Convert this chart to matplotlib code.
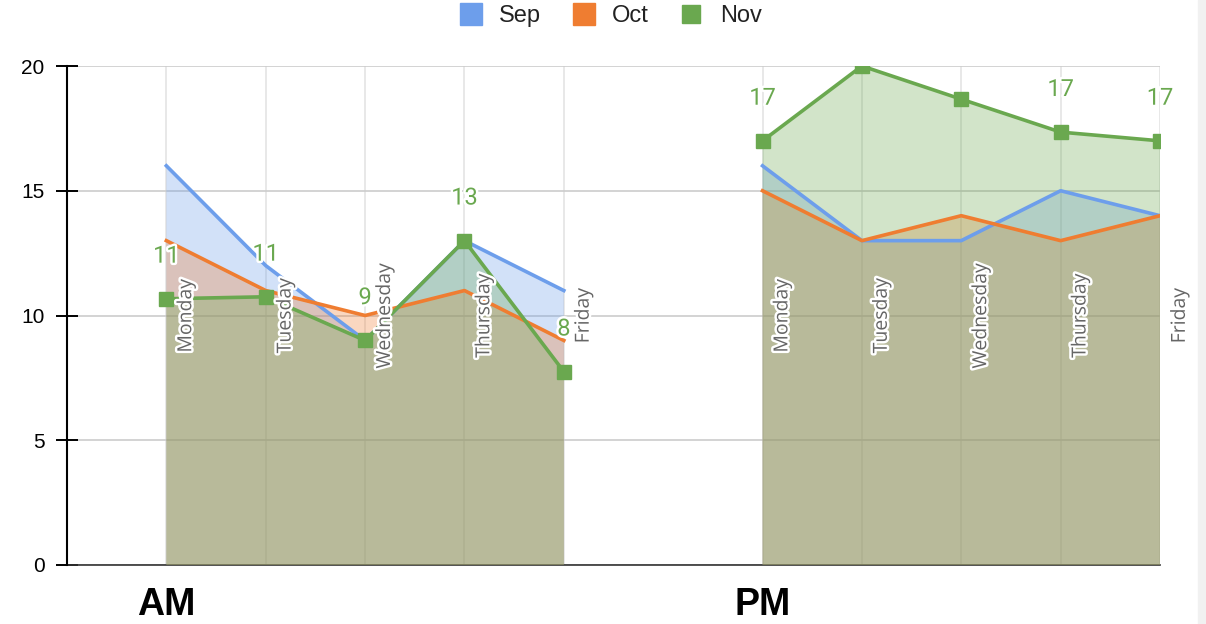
import matplotlib.pyplot as plt
import matplotlib.patheffects as pe
from matplotlib.lines import Line2D
from matplotlib.patches import Rectangle
import numpy as np

# categories: AM Mon-Fri, empty gap, PM Mon-Fri
days = ['Monday', 'Tuesday', 'Wednesday', 'Thursday', 'Friday',
        '',
        'Monday', 'Tuesday', 'Wednesday', 'Thursday', 'Friday']
groups = ['AM', 'PM']
group_start = [0, 6]

sep = [16, 12, 9, 13, 11, None, 16, 13, 13, 15, 14]
oct_ = [13, 11, 10, 11, 9, None, 15, 13, 14, 13, 14]
nov = [10.67, 10.75, 9, 13, 7.75, None, 17, 20, 18.67, 17.35, 17]
nov_labelled = [True, True, True, True, True, False, True, False, False, True, True]

series = [('Sep', sep, '#6d9eeb'), ('Oct', oct_, '#ef7d31'), ('Nov', nov, '#6aa84f')]

fig = plt.figure(figsize=(12.06, 6.24), dpi=100)
ax = fig.add_axes([67 / 1206, 59 / 624, (1160 - 67) / 1206, (565 - 66) / 624])
fig.patches.append(Rectangle((1198 / 1206, 0), 8 / 1206, 1, transform=fig.transFigure,
                             color='#f1f1f1', zorder=0))

x = np.arange(len(days)) + 1

for i, (name, vals, col) in enumerate(series):
    y = np.array([np.nan if v is None else v for v in vals], dtype=float)
    ax.fill_between(x, 0, y, color=col, alpha=0.3, linewidth=0, zorder=2 + i)
for i, (name, vals, col) in enumerate(series):
    y = np.array([np.nan if v is None else v for v in vals], dtype=float)
    if name == 'Nov':
        ax.plot(x, y, color=col, lw=2.6, marker='s', markersize=10, zorder=6 + i)
    else:
        ax.plot(x, y, color=col, lw=2.6, zorder=6 + i)

# day labels inside the plot
halo = [pe.withStroke(linewidth=3.5, foreground='white')]
for xi, d in zip(x, days):
    if d:
        ax.text(xi + 0.2, 10, d, rotation=90, ha='center', va='center', fontsize=14,
                family='Open Sans', color='#666666', path_effects=halo, zorder=10)

# Nov data labels
for xi, v, lab in zip(x, nov, nov_labelled):
    if lab and v is not None:
        ax.annotate(f'{v:.0f}', (xi, v), xytext=(0, 26), textcoords='offset points',
                    ha='center', va='baseline', fontsize=17, family='Roboto',
                    color='#6aa84f', path_effects=halo, zorder=11)

# AM / PM under the first day of each group
for g, s in zip(groups, group_start):
    ax.text(x[s], -0.08, g, transform=ax.get_xaxis_transform(), ha='center', va='center',
            fontsize=27, fontweight='bold', family='Liberation Sans', color='black')

ax.set_xlim(0, 11)
ax.set_ylim(0, 20)
ax.set_xticks([xi for xi, d in zip(x, days) if d])
ax.set_xticklabels([])
ax.tick_params(axis='x', length=0)
ax.set_yticks([0, 5, 10, 15, 20])
ax.tick_params(axis='y', direction='inout', length=16.5, width=1.4, pad=8,
               labelsize=15, colors='black')
for t in ax.get_yticklabels():
    t.set_family('Liberation Sans')

ax.grid(axis='y', color='#cccccc', lw=1.2)
ax.grid(axis='x', color='#e4e4e4', lw=1.2)
ax.set_axisbelow(True)
for s in ['top', 'right']:
    ax.spines[s].set_visible(False)
ax.spines['left'].set_linewidth(1.5)
ax.spines['bottom'].set_linewidth(1.2)
ax.spines['bottom'].set_color('#333333')
ax.spines['bottom'].set_zorder(1)

handles = [Line2D([], [], ls='none', marker='s', markersize=16, color=series[0][2]),
           Line2D([], [], ls='none', marker='s', markersize=16, color=series[1][2]),
           Line2D([], [], ls='none', marker='s', markersize=13, color=series[2][2])]
fig.legend(handles, [s[0] for s in series], loc='center', bbox_to_anchor=(0.506, 0.974),
           ncol=3, frameon=False, handlelength=1.0, handletextpad=0.7, columnspacing=1.3,
           prop={'family': 'Liberation Sans', 'size': 17}, labelcolor='#222222')

fig.savefig('out.png', dpi=100)
